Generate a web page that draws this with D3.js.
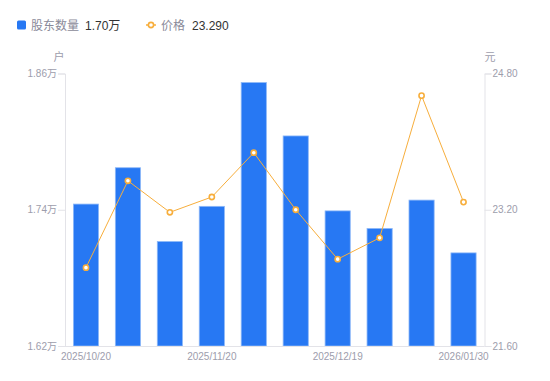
<!DOCTYPE html>
<html><head><meta charset="utf-8">
<script src="https://cdn.jsdelivr.net/npm/d3@7/dist/d3.min.js"></script>
<style>body{margin:0;background:#fff;}svg{display:block;font-family:"Liberation Sans","Noto Sans CJK SC",sans-serif;}</style>
</head><body><svg id="c" width="550" height="381"></svg>
<script>
const dates = ["2025/10/20","2025/10/31","2025/11/10","2025/11/20","2025/11/28","2025/12/10","2025/12/19","2025/12/31","2026/01/20","2026/01/30"];
const holders = [1.745,1.777,1.712,1.743,1.852,1.805,1.739,1.7235,1.7485,1.702];
const prices = [22.52,23.54,23.17,23.35,23.87,23.20,22.62,22.87,24.54,23.29];
const leftTicks = [1.62,1.74,1.86];
const rightTicks = [21.60,23.20,24.80];
const xLabelIdx = [0,3,6,9];

const svg = d3.select("#c");
const L=65, R=484.5, T=73.5, B=346;
const axisColor="#e3e3e8", labelColor="#9d9dac";
const blue="#2778f3", orange="#f7ae3c";
const FF="'Liberation Sans','Noto Sans CJK SC',sans-serif";

const x = d3.scaleBand().domain(dates).range([L,R]).paddingInner(0.4).paddingOuter(0.2);
const yL = d3.scaleLinear().domain([1.62,1.86]).range([B,T]);
const yR = d3.scaleLinear().domain([21.6,24.8]).range([B,T]);

// bars
svg.append("g").selectAll("rect").data(holders).join("rect")
  .attr("x",(d,i)=>x(dates[i])).attr("width",x.bandwidth())
  .attr("y",d=>yL(d)).attr("height",d=>B-yL(d))
  .attr("fill",blue).attr("stroke","#8db8f8").attr("stroke-width",0.8);

// axes
const la = d3.axisLeft(yL).tickValues(leftTicks).tickSize(7).tickFormat(d=>d3.format(".2f")(d)+"万");
const ra = d3.axisRight(yR).tickValues(rightTicks).tickSize(7).tickFormat(d3.format(".2f"));
const gl = svg.append("g").attr("transform",`translate(${L},0)`).call(la);
const gr = svg.append("g").attr("transform",`translate(${R},0)`).call(ra);
const xa = d3.axisBottom(x).tickValues(xLabelIdx.map(i=>dates[i])).tickSize(0).tickPadding(7);
const gx = svg.append("g").attr("transform",`translate(0,${B})`).call(xa);
[gl,gr,gx].forEach(g=>{
  g.select(".domain").attr("stroke",axisColor);
  g.selectAll(".tick line").attr("stroke",axisColor);
  g.selectAll("text").attr("fill",labelColor).style("font-size","10px").style("font-family",FF);
});
gl.selectAll("text").attr("x",-8);
gr.selectAll("text").attr("x",8);
gx.select(".domain").attr("d",`M${L-5},0.5H${R}`);

// line
const line = d3.line().x((d,i)=>x(dates[i])+x.bandwidth()/2).y(d=>yR(d));
svg.append("path").datum(prices).attr("d",line).attr("fill","none").attr("stroke",orange).attr("stroke-width",1);
svg.append("g").selectAll("circle").data(prices).join("circle")
  .attr("cx",(d,i)=>x(dates[i])+x.bandwidth()/2).attr("cy",d=>yR(d)).attr("r",2.6)
  .attr("fill","#fff").attr("stroke",orange).attr("stroke-width",1.6);

// unit labels
svg.append("text").attr("x",59).attr("y",61).attr("text-anchor","middle").attr("fill",labelColor).style("font-size","11px").text("户");
svg.append("text").attr("x",490).attr("y",61).attr("text-anchor","middle").attr("fill",labelColor).style("font-size","11px").text("元");

// legend
const lg = svg.append("g").style("font-size","12px");
lg.append("rect").attr("x",17).attr("y",20.5).attr("width",9).attr("height",9).attr("rx",1.5).attr("fill",blue);
lg.append("text").attr("x",31).attr("y",29.5).attr("fill","#8a8a99").text("股东数量");
lg.append("text").attr("x",85).attr("y",29.5).attr("fill","#333").text(d3.format(".2f")(holders[holders.length-1])+"万");
lg.append("line").attr("x1",146).attr("x2",156).attr("y1",25).attr("y2",25).attr("stroke",orange).attr("stroke-width",1.5);
lg.append("circle").attr("cx",151).attr("cy",25).attr("r",2.6).attr("fill","#fff").attr("stroke",orange).attr("stroke-width",1.6);
lg.append("text").attr("x",161).attr("y",29.5).attr("fill","#8a8a99").text("价格");
lg.append("text").attr("x",192).attr("y",29.5).attr("fill","#333").text(d3.format(".3f")(prices[prices.length-1]));
</script></body></html>
